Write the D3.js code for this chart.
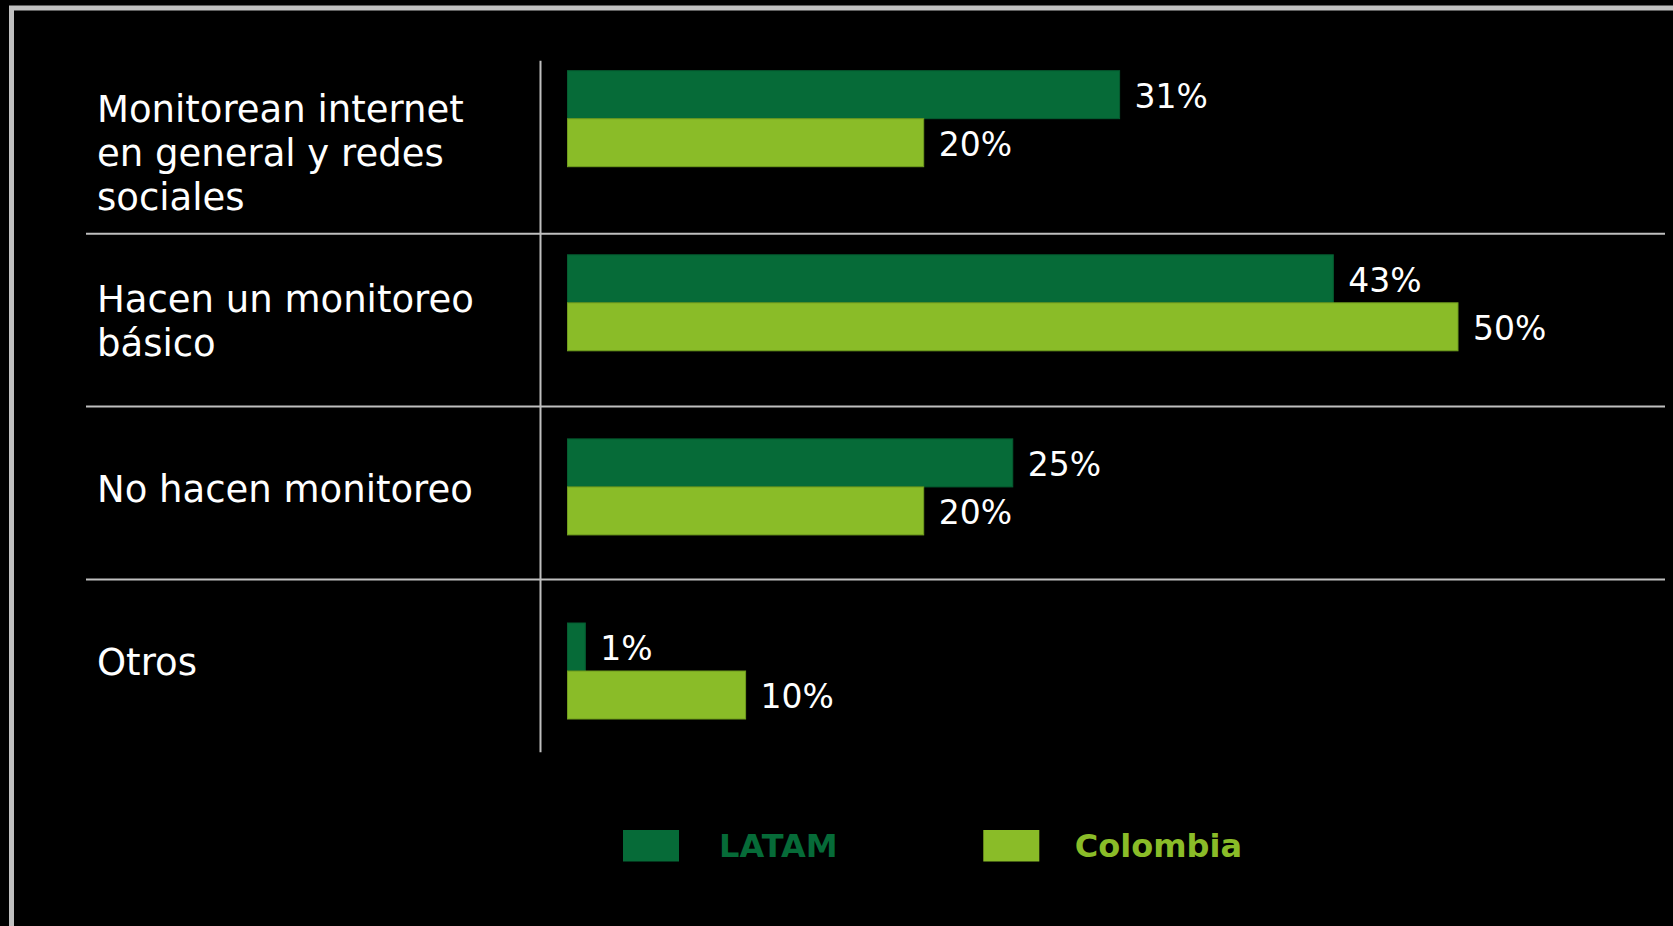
<!DOCTYPE html>
<html>
<head>
<meta charset="utf-8">
<script src="https://cdn.jsdelivr.net/npm/d3@7"></script>
<style>
  html, body { margin: 0; padding: 0; background: #000; }
  svg { display: block; }
</style>
</head>
<body>
<div id="chart"></div>
<script>
// ---- data ----
const categories = ["Monitorean internet en general y redes sociales", "Hacen un monitoreo básico", "No hacen monitoreo", "Otros"];
const labelLines = [
  ["Monitorean internet", "en general y redes", "sociales"],
  ["Hacen un monitoreo", "básico"],
  ["No hacen monitoreo"],
  ["Otros"]
];
const series = ["LATAM", "Colombia"];
const latam = [31, 43, 25, 1];
const colombia = [20, 50, 20, 10];
const seriesColors = ["#066b38", "#8abc28"];
const seriesStroke = ["#055c30", "#6f9c1e"];

// ---- layout ----
const W = 1673, H = 926;
const svg = d3.select("#chart").append("svg").attr("width", W).attr("height", H)
  .style("background", "#000");

// outer frame (only top and left edges visible)
svg.append("rect").attr("x", 11.5).attr("y", 8).attr("width", W + 20).attr("height", H + 20)
  .attr("fill", "none").attr("stroke", "#c0c0c0").attr("stroke-width", 5);

const x = d3.scaleLinear().domain([0, 50]).range([567.5, 1458]);
const y = d3.scaleBand().domain(categories).range([26.5, 763.2]).paddingInner(0.4785).paddingOuter(0.24);
const ySub = d3.scaleBand().domain(series).range([0, y.bandwidth()]);
const row = d3.scaleBand().domain(categories).range([60.8, 752.3]);

const gridColor = "#bfbfbf";
// row separators
svg.append("g").selectAll("line").data(categories.slice(1)).join("line")
  .attr("x1", 86).attr("x2", 1665)
  .attr("y1", d => row(d)).attr("y2", d => row(d))
  .attr("stroke", gridColor).attr("stroke-width", 2);
// vertical axis line
svg.append("line").attr("x1", 540.5).attr("x2", 540.5)
  .attr("y1", row.range()[0]).attr("y2", row.range()[1])
  .attr("stroke", gridColor).attr("stroke-width", 2);

// bars
const data = [];
categories.forEach((c, i) => {
  data.push({ cat: c, s: "LATAM", v: latam[i], k: 0 });
  data.push({ cat: c, s: "Colombia", v: colombia[i], k: 1 });
});

svg.append("g").selectAll("rect").data(data).join("rect")
  .attr("x", x(0))
  .attr("y", d => y(d.cat) + ySub(d.s))
  .attr("width", d => x(d.v) - x(0))
  .attr("height", ySub.bandwidth())
  .attr("fill", d => seriesColors[d.k])
  .attr("stroke", d => seriesStroke[d.k])
  .attr("stroke-width", 1);

// value labels
svg.append("g").selectAll("text").data(data).join("text")
  .attr("x", d => x(d.v) + 15)
  .attr("y", d => y(d.cat) + ySub(d.s) + ySub.bandwidth() / 2 + 13)
  .attr("fill", "#ffffff")
  .attr("font-family", "'DejaVu Sans', Verdana, sans-serif")
  .attr("font-size", 33)
  .text(d => d.v + "%");

// category labels
const lh = 44.2;
const catG = svg.append("g");
categories.forEach((c, i) => {
  const lines = labelLines[i];
  const n = lines.length;
  const cy = row(c) + row.bandwidth() / 2;
  const shift = -4 + 4.5 * (n - 1);
  lines.forEach((t, j) => {
    catG.append("text")
      .attr("x", 97)
      .attr("y", cy + (j - (n - 1) / 2) * lh + 13.5 + shift)
      .attr("fill", "#ffffff")
      .attr("font-family", "'DejaVu Sans', Verdana, sans-serif")
      .attr("font-size", 37)
      .text(t);
  });
});

// legend
const legend = svg.append("g").selectAll("g").data(series).join("g")
  .attr("transform", (d, i) => `translate(${623 + i * 360.3}, 830)`);
legend.append("rect").attr("width", 56).attr("height", 31.5)
  .attr("fill", (d, i) => seriesColors[i]);
legend.append("text").attr("x", (d, i) => i === 0 ? 96 : 91.5).attr("y", 26.5)
  .attr("fill", (d, i) => seriesColors[i])
  .attr("font-family", "'DejaVu Sans', Verdana, sans-serif")
  .attr("font-weight", "bold")
  .attr("font-size", 32)
  .text(d => d);
</script>
</body>
</html>
